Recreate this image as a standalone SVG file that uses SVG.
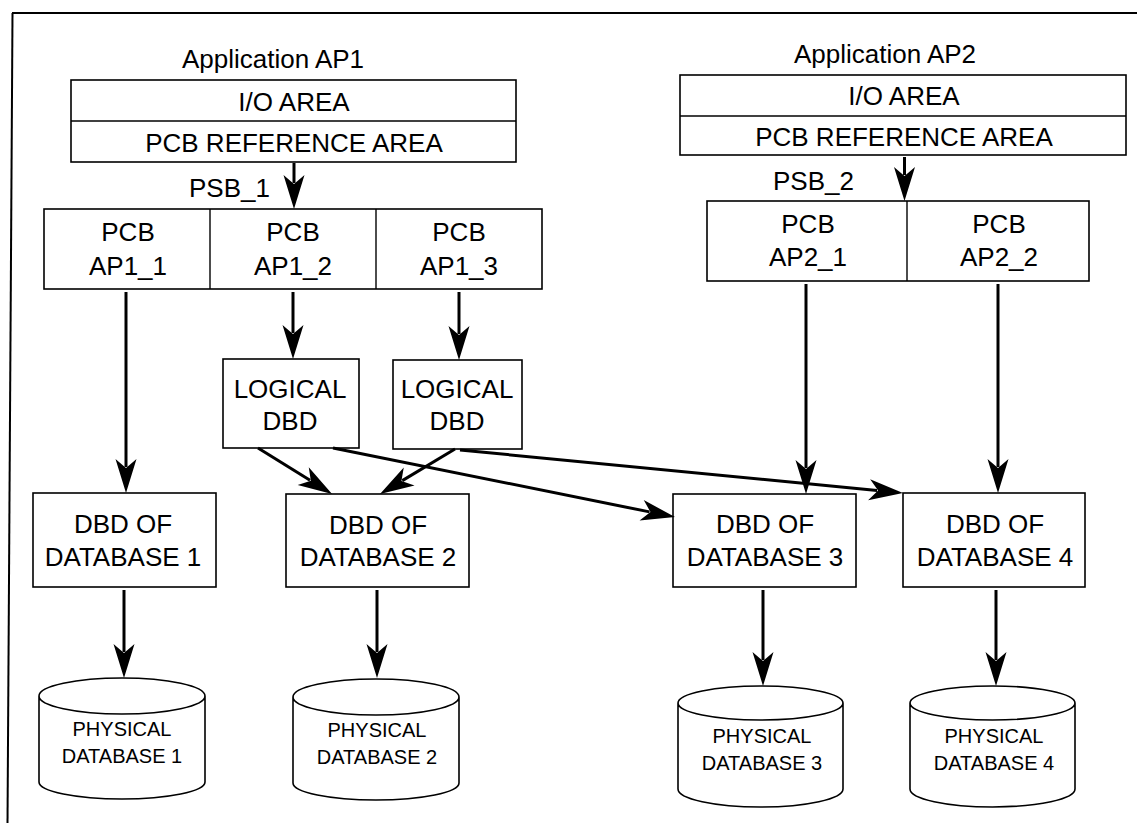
<svg xmlns="http://www.w3.org/2000/svg" width="1137" height="823" viewBox="0 0 1137 823">
  <style>
    .box { fill: #fff; stroke: #000; stroke-width: 1.6; }
    .div { fill: none; stroke: #000; stroke-width: 1.4; }
    .frame { fill: none; stroke: #000; stroke-width: 2; }
    .t { font-family: "Liberation Sans", Arial, sans-serif; font-size: 26px; fill: #000; text-anchor: middle; }
    .ts { font-family: "Liberation Sans", Arial, sans-serif; font-size: 20px; fill: #000; text-anchor: middle; }
    .lbl { font-family: "Liberation Sans", Arial, sans-serif; font-size: 26px; fill: #000; }
    .arrow { fill: none; stroke: #000; stroke-width: 3; marker-end: url(#head); }
  </style>
  <defs>
    <!-- slim notched arrowhead; the path stops 26px short of the tip -->
    <marker id="head" markerUnits="userSpaceOnUse" viewBox="-36 -12 38 24" markerWidth="38" markerHeight="24" refX="-26" refY="0" orient="auto">
      <path d="M0,0 L-34,-10.5 L-25,0 L-34,10.5 Z" fill="#000"/>
    </marker>
  </defs>
  <rect width="1137" height="823" fill="#fff"/>

  <!-- page frame -->
  <line class="frame" x1="12" y1="13" x2="1137" y2="13"/>
  <line class="frame" x1="12.5" y1="13" x2="7.5" y2="823"/>

  <!-- application AP1 -->
  <g id="app1">
    <text class="t" x="273" y="68">Application AP1</text>
    <rect class="box" x="71" y="80" width="445" height="82"/>
    <line class="div" x1="71" y1="121" x2="516" y2="121"/>
    <text class="t" x="294" y="111">I/O AREA</text>
    <text class="t" x="294" y="152">PCB REFERENCE AREA</text>
  </g>
  <text id="psb1" class="lbl" x="189" y="197">PSB_1</text>
  <g id="psb1-pcbs">
    <rect class="box" x="44" y="209" width="498" height="80"/>
    <line class="div" x1="210" y1="209" x2="210" y2="289"/>
    <line class="div" x1="376" y1="209" x2="376" y2="289"/>
    <text class="t" x="128" y="241">PCB</text>
    <text class="t" x="128" y="275">AP1_1</text>
    <text class="t" x="293" y="241">PCB</text>
    <text class="t" x="293" y="275">AP1_2</text>
    <text class="t" x="459" y="241">PCB</text>
    <text class="t" x="459" y="275">AP1_3</text>
  </g>

  <!-- application AP2 -->
  <g id="app2">
    <text class="t" x="885" y="63">Application AP2</text>
    <rect class="box" x="680" y="75" width="446" height="80"/>
    <line class="div" x1="680" y1="116" x2="1126" y2="116"/>
    <text class="t" x="904" y="105">I/O AREA</text>
    <text class="t" x="904" y="146">PCB REFERENCE AREA</text>
  </g>
  <text id="psb2" class="lbl" x="773" y="190">PSB_2</text>
  <g id="psb2-pcbs">
    <rect class="box" x="707" y="201" width="382" height="80"/>
    <line class="div" x1="907" y1="201" x2="907" y2="281"/>
    <text class="t" x="808" y="233">PCB</text>
    <text class="t" x="808" y="266">AP2_1</text>
    <text class="t" x="999" y="233">PCB</text>
    <text class="t" x="999" y="266">AP2_2</text>
  </g>

  <!-- logical DBDs -->
  <g id="logical1">
    <rect class="box" x="223" y="359" width="136" height="89"/>
    <text class="t" x="290" y="398">LOGICAL</text>
    <text class="t" x="290" y="430">DBD</text>
  </g>
  <g id="logical2">
    <rect class="box" x="393" y="360" width="129" height="89"/>
    <text class="t" x="457" y="398">LOGICAL</text>
    <text class="t" x="457" y="430">DBD</text>
  </g>

  <!-- physical DBDs -->
  <g id="dbd1">
    <rect class="box" x="33" y="493" width="183" height="94"/>
    <text class="t" x="123" y="533">DBD OF</text>
    <text class="t" x="123" y="566">DATABASE 1</text>
  </g>
  <g id="dbd2">
    <rect class="box" x="286" y="494" width="183" height="93"/>
    <text class="t" x="378" y="534">DBD OF</text>
    <text class="t" x="378" y="566">DATABASE 2</text>
  </g>
  <g id="dbd3">
    <rect class="box" x="673" y="494" width="183" height="93"/>
    <text class="t" x="765" y="533">DBD OF</text>
    <text class="t" x="765" y="566">DATABASE 3</text>
  </g>
  <g id="dbd4">
    <rect class="box" x="903" y="493" width="182" height="94"/>
    <text class="t" x="995" y="533">DBD OF</text>
    <text class="t" x="995" y="566">DATABASE 4</text>
  </g>

  <!-- physical databases -->
  <g id="db1">
    <path class="box" d="M39,696 L39,782 A83,17 0 0 0 205,782 L205,696 A83,18 0 0 0 39,696 A83,18 0 0 0 205,696"/>
    <text class="ts" x="122" y="736">PHYSICAL</text>
    <text class="ts" x="122" y="763">DATABASE 1</text>
  </g>
  <g id="db2">
    <path class="box" d="M293,697 L293,783 A83,17 0 0 0 459,783 L459,697 A83,18 0 0 0 293,697 A83,18 0 0 0 459,697"/>
    <text class="ts" x="377" y="737">PHYSICAL</text>
    <text class="ts" x="377" y="764">DATABASE 2</text>
  </g>
  <g id="db3">
    <path class="box" d="M678,703 L678,789 A82.5,18 0 0 0 843,789 L843,703 A82.5,17 0 0 0 678,703 A82.5,17 0 0 0 843,703"/>
    <text class="ts" x="762" y="743">PHYSICAL</text>
    <text class="ts" x="762" y="770">DATABASE 3</text>
  </g>
  <g id="db4">
    <path class="box" d="M910,703 L910,789 A82.5,18 0 0 0 1075,789 L1075,703 A82.5,17 0 0 0 910,703 A82.5,17 0 0 0 1075,703"/>
    <text class="ts" x="994" y="743">PHYSICAL</text>
    <text class="ts" x="994" y="770">DATABASE 4</text>
  </g>

  <!-- connectors -->
  <g id="connectors">
    <line class="arrow" x1="294" y1="163" x2="294" y2="183"/>
    <line class="arrow" x1="904.5" y1="157" x2="904.5" y2="175"/>
    <line class="arrow" x1="126" y1="292" x2="126" y2="467"/>
    <line class="arrow" x1="293" y1="292" x2="293" y2="333"/>
    <line class="arrow" x1="459" y1="292" x2="459" y2="334"/>
    <line class="arrow" x1="806" y1="284" x2="806" y2="468"/>
    <line class="arrow" x1="998" y1="284" x2="998" y2="467"/>
    <line class="arrow" x1="258" y1="448" x2="310" y2="480.3"/>
    <line class="arrow" x1="455" y1="449" x2="402.3" y2="480.6"/>
    <line class="arrow" x1="333" y1="448" x2="649.5" y2="511.9"/>
    <line class="arrow" x1="460" y1="450" x2="877.1" y2="490.5"/>
    <line class="arrow" x1="124" y1="590" x2="124" y2="652"/>
    <line class="arrow" x1="377" y1="590" x2="377" y2="652"/>
    <line class="arrow" x1="763" y1="590" x2="763" y2="660"/>
    <line class="arrow" x1="996" y1="590" x2="996" y2="660"/>
  </g>
</svg>
